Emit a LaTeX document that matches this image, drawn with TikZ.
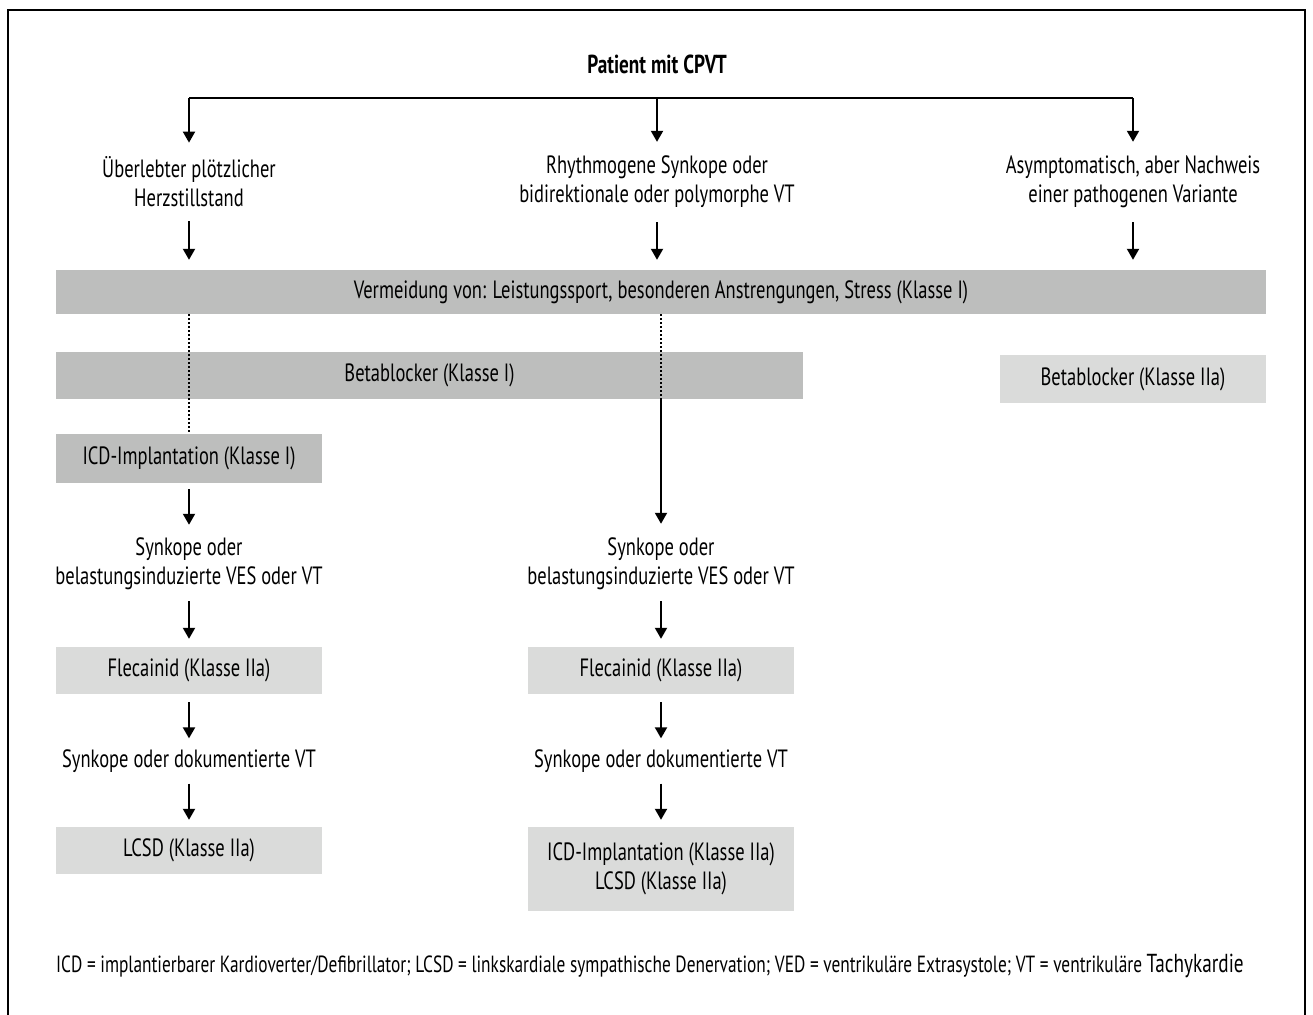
\documentclass[tikz,border=0pt]{standalone}
\usepackage{fontspec}
\setmainfont{PT Sans}[FakeStretch=0.74]
\usetikzlibrary{arrows.meta}
\definecolor{boxdark}{HTML}{BDBEBD}
\definecolor{boxlight}{HTML}{DADBDA}
\tikzset{
  txt/.style={inner sep=0pt, align=center, font=\fontsize{25}{29}\selectfont},
  darkbox/.style={fill=boxdark, inner sep=0pt, align=center, font=\fontsize{25}{29}\selectfont},
  lightbox/.style={fill=boxlight, inner sep=0pt, align=center, font=\fontsize{25}{29}\selectfont},
  conn/.style={line width=2pt},
  arr/.style={line width=2pt, -{Triangle[width=12pt,length=11pt]}},
  dotline/.style={line width=2pt, dash pattern=on 2pt off 2pt},
}
\begin{document}
\begin{tikzpicture}[x=1pt,y=-1pt]
\useasboundingbox (0,0) rectangle (1313,1014);
\fill[white] (0,0) rectangle (1313,1014);
% outer frame (open at the bottom edge)
\draw[line width=2pt] (8,1030) -- (8,10) -- (1305,10) -- (1305,1030);

\node[txt, font=\bfseries\fontsize{26}{29}\selectfont] (title) at (657,64) {Patient mit CPVT};

\coordinate (bl) at (189,98);
\coordinate (bm) at (657,98);
\coordinate (br) at (1133,98);

\node[txt] (t1) at (189,182) {Überlebter plötzlicher\\Herzstillstand};
\node[txt] (t2) at (657,182) {Rhythmogene Synkope oder\\bidirektionale oder polymorphe VT};
\node[txt] (t3) at (1133,182) {Asymptomatisch, aber Nachweis\\einer pathogenen Variante};

\node[darkbox, minimum width=1210pt, minimum height=44pt] (verm) at (661,292)
  {Vermeidung von: Leistungssport, besonderen Anstrengungen, Stress (Klasse I)};
\node[darkbox, minimum width=747pt, minimum height=47pt] (bb1) at (429.5,375.5) {Betablocker (Klasse I)};
\node[lightbox, minimum width=266pt, minimum height=48pt] (bb2) at (1133,379) {Betablocker (Klasse IIa)};
\node[darkbox, minimum width=266pt, minimum height=49pt] (icd1) at (189,458.5) {ICD-Implantation (Klasse I)};

\node[txt] (s1) at (189,564) {Synkope oder\\belastungsinduzierte VES oder VT};
\node[txt] (s2) at (661,564) {Synkope oder\\belastungsinduzierte VES oder VT};

\node[lightbox, minimum width=266pt, minimum height=47pt] (fl1) at (189,670.5) {Flecainid (Klasse IIa)};
\node[lightbox, minimum width=266pt, minimum height=47pt] (fl2) at (661,670.5) {Flecainid (Klasse IIa)};

\node[txt] (d1) at (189,761) {Synkope oder dokumentierte VT};
\node[txt] (d2) at (661,761) {Synkope oder dokumentierte VT};

\node[lightbox, minimum width=266pt, minimum height=47pt] (lc1) at (189,850.5) {LCSD (Klasse IIa)};
\node[lightbox, minimum width=266pt, minimum height=84pt] (lc2) at (661,869) {ICD-Implantation (Klasse IIa)\\LCSD (Klasse IIa)};

\node[txt, anchor=west, font=\fontsize{23.4}{26}\selectfont] (foot) at (56,966)
  {ICD = implantierbarer Kardioverter/Defibrillator; LCSD = linkskardiale sympathische Denervation; VED = ventrikuläre Extrasystole; VT = ventrikuläre {\fontsize{26}{26}\selectfont Tachykardie}};

% branching from the patient
\draw[conn] (bl) -- (br);
\draw[arr, shorten >=14pt] (bl) -- (t1.north);
\draw[arr, shorten >=14pt] (bm) -- (t2.north);
\draw[arr, shorten >=14pt] (br) -- (t3.north);

% to the common recommendation
\draw[arr, shorten <=14pt, shorten >=10pt] (t1.south) -- (t1.south |- verm.north);
\draw[arr, shorten <=14pt, shorten >=10pt] (t2.south) -- (t2.south |- verm.north);
\draw[arr, shorten <=14pt, shorten >=10pt] (t3.south) -- (t3.south |- verm.north);

% dotted links
\draw[dotline] (verm.south -| icd1.north) -- (icd1.north);
\draw[dotline] (verm.south -| s2.north) -- (bb1.south -| s2.north);
\draw[arr, shorten >=14pt] (bb1.south -| s2.north) -- (s2.north);

% left column
\draw[arr, shorten <=6pt, shorten >=13pt] (icd1.south) -- (s1.north);
\draw[arr, shorten <=11pt, shorten >=8pt] (s1.south) -- (fl1.north);
\draw[arr, shorten <=8pt, shorten >=11pt] (fl1.south) -- (d1.north);
\draw[arr, shorten <=11pt, shorten >=7pt] (d1.south) -- (lc1.north);

% middle column
\draw[arr, shorten <=11pt, shorten >=8pt] (s2.south) -- (fl2.north);
\draw[arr, shorten <=8pt, shorten >=11pt] (fl2.south) -- (d2.north);
\draw[arr, shorten <=11pt, shorten >=7pt] (d2.south) -- (lc2.north);
\end{tikzpicture}
\end{document}
